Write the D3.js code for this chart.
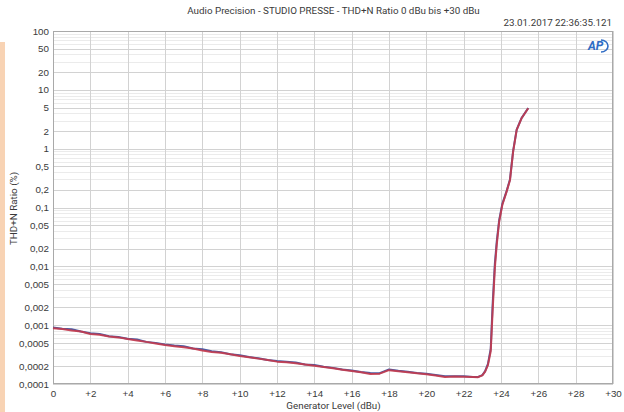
<!DOCTYPE html>
<html>
<head>
<meta charset="utf-8">
<script src="https://cdn.jsdelivr.net/npm/d3@7"></script>
<style>
  html, body { margin: 0; padding: 0; background: #ffffff; }
  svg { display: block; font-family: Roboto, "Open Sans", sans-serif; }
</style>
</head>
<body>
<svg id="chart" width="624" height="412"></svg>
<script>
// Generator level sweep (dBu)
const levels = [0,0.5,1,1.5,2,2.5,3,3.5,4,4.5,5,5.5,6,6.5,7,7.5,8,8.5,9,9.5,10,10.5,11,11.5,12,12.5,13,13.5,14,14.5,15,15.5,16,16.5,17,17.5,18,18.5,19,19.5,20,20.5,21,21.5,22,22.5,
  22.75,23,23.15,23.3,23.45,23.55,23.67,23.77,23.9,24.07,24.3,24.48,24.65,24.84,25.1,25.46];

// THD+N ratio (%), channel A (blue) and channel B (red)
const thdBlue = [0.00091,0.00087,0.00085,0.00078,0.00073,0.00071,0.00065,0.00063,0.00059,0.00057,0.00052,0.00050,0.00047,0.00045,0.00044,0.00040,0.00039,0.00036,0.000348,0.00032,0.000308,0.000288,0.000274,0.000255,0.000245,0.00024,0.000232,0.000215,0.00021,0.000196,0.000188,0.000176,0.000170,0.000160,0.000154,0.000153,0.000177,0.000168,0.000162,0.000154,0.000149,0.000142,0.000136,0.000135,0.000135,0.000132,
  0.000131,0.000142,0.000165,0.00022,0.00040,0.0022,0.011,0.026,0.060,0.115,0.19,0.30,0.92,2.1,3.3,4.9];
const thdRed = [0.00089,0.00086,0.00081,0.00078,0.00071,0.00069,0.00064,0.00062,0.00058,0.00055,0.00052,0.00049,0.00046,0.00044,0.00042,0.00040,0.00037,0.00035,0.00034,0.00032,0.00030,0.000285,0.00027,0.000255,0.00024,0.000235,0.000225,0.000215,0.000205,0.000195,0.000185,0.000175,0.000166,0.000158,0.000148,0.000150,0.000172,0.000165,0.000158,0.000152,0.000146,0.000140,0.000131,0.000134,0.000133,0.000131,
  0.00013,0.00014,0.000162,0.00021,0.00036,0.0017,0.0093,0.023,0.057,0.11,0.186,0.29,0.89,2.08,3.28,4.86];

// Axis ticks
const xTicks = [0,2,4,6,8,10,12,14,16,18,20,22,24,26,28,30];
const xTickLabels = ["0","+2","+4","+6","+8","+10","+12","+14","+16","+18","+20","+22","+24","+26","+28","+30"];
const yTicks = [100,50,20,10,5,2,1,0.5,0.2,0.1,0.05,0.02,0.01,0.005,0.002,0.001,0.0005,0.0002,0.0001];
const yTickLabels = ["100","50","20","10","5","2","1","0,5","0,2","0,1","0,05","0,02","0,01","0,005","0,002","0,001","0,0005","0,0002","0,0001"];

const titleText = "Audio Precision - STUDIO PRESSE - THD+N Ratio 0 dBu bis +30 dBu";
const stampText = "23.01.2017 22:36:35.121";
const xTitle = "Generator Level (dBu)";
const yTitle = "THD+N Ratio (%)";

const svg = d3.select("#chart");
const plotLeft = 53, plotRight = 613, plotTop = 31, plotBottom = 384;
const fontSize = "9.8px";
const textColor = "#3a3a3a";

const x = d3.scaleLinear().domain([0, 30]).range([plotLeft, plotRight]);
const y = d3.scaleLog().domain([0.0001, 100]).range([plotBottom, plotTop]);

// side accent strip
svg.append("rect").attr("x", 0).attr("y", 42).attr("width", 5).attr("height", 370).attr("fill", "#f8d3b4");

// plot background
svg.append("rect").attr("x", plotLeft).attr("y", plotTop)
  .attr("width", plotRight - plotLeft).attr("height", plotBottom - plotTop).attr("fill", "#ffffff");

// horizontal grid: every log step 1..9 per decade, labelled steps darker
const gridG = svg.append("g");
const minorVals = [];
for (let e = -4; e < 2; e++) {
  for (let m = 1; m <= 9; m++) minorVals.push(m * Math.pow(10, e));
}
minorVals.push(100);
gridG.selectAll("line.hmin").data(minorVals).join("line")
  .attr("x1", plotLeft).attr("x2", plotRight)
  .attr("y1", d => Math.round(y(d)) + 0.5).attr("y2", d => Math.round(y(d)) + 0.5)
  .attr("stroke", d => {
    const m = Math.round(d / Math.pow(10, Math.floor(Math.log10(d) + 1e-9)));
    return (m === 1 || m === 2 || m === 5) ? "#d2d2d2" : "#ebebeb";
  })
  .attr("stroke-width", 1);

// vertical grid
gridG.selectAll("line.v").data(xTicks).join("line")
  .attr("x1", d => Math.round(x(d)) + 0.5).attr("x2", d => Math.round(x(d)) + 0.5)
  .attr("y1", plotTop).attr("y2", plotBottom)
  .attr("stroke", "#d2d2d2").attr("stroke-width", 1);

// frame
svg.append("rect").attr("x", plotLeft + 0.5).attr("y", plotTop + 0.5)
  .attr("width", plotRight - plotLeft - 1).attr("height", plotBottom - plotTop - 1)
  .attr("fill", "none").attr("stroke", "#a9a9a9");

// axes
const xAxis = d3.axisBottom(x).tickValues(xTicks).tickSize(0).tickPadding(6)
  .tickFormat((d, i) => xTickLabels[i]);
const gx = svg.append("g").attr("transform", `translate(0,${plotBottom})`).call(xAxis);
gx.select(".domain").remove();
gx.selectAll("text").attr("fill", textColor).style("font-size", fontSize);

const yAxis = d3.axisLeft(y).tickValues(yTicks).tickSize(0).tickPadding(4)
  .tickFormat((d, i) => yTickLabels[i]);
const gy = svg.append("g").attr("transform", `translate(${plotLeft},0)`).call(yAxis);
gy.select(".domain").remove();
gy.selectAll("text").attr("fill", textColor).style("font-size", fontSize);

// titles
svg.append("text").attr("x", 333.5).attr("y", 13.5).attr("text-anchor", "middle")
  .attr("fill", textColor).style("font-size", fontSize).text(titleText);
svg.append("text").attr("x", 612).attr("y", 26).attr("text-anchor", "end")
  .attr("fill", textColor).style("font-size", fontSize).text(stampText);
svg.append("text").attr("x", 333.5).attr("y", 408.5).attr("text-anchor", "middle")
  .attr("fill", textColor).style("font-size", fontSize).text(xTitle);
svg.append("text").attr("transform", "translate(16.5,208.5) rotate(-90)").attr("text-anchor", "middle")
  .attr("fill", textColor).style("font-size", fontSize).text(yTitle);

// logo
const logo = svg.append("g").attr("transform", "translate(588,50)");
logo.append("text").attr("x", 0).attr("y", 0).attr("fill", "#2f6cc4")
  .style("font-size", "12px").style("font-weight", "bold").style("font-style", "italic").text("AP");
logo.append("path").attr("d", "M13,-10 A7,6 0 0 1 13,2").attr("fill", "none")
  .attr("stroke", "#2f6cc4").attr("stroke-width", 1.6);

// traces
const line = d3.line().x(d => x(d[0])).y(d => y(d[1]));
const plotG = svg.append("g");
plotG.append("path").datum(levels.map((l, i) => [l, thdBlue[i]]))
  .attr("d", line).attr("fill", "none").attr("stroke", "#4c5ea4").attr("stroke-width", 2)
  .attr("stroke-linejoin", "round");
plotG.append("path").datum(levels.map((l, i) => [l, thdRed[i]]))
  .attr("d", line).attr("fill", "none").attr("stroke", "#c43a4c").attr("stroke-width", 2)
  .attr("stroke-linejoin", "round").attr("stroke-opacity", 0.9);
</script>
</body>
</html>
